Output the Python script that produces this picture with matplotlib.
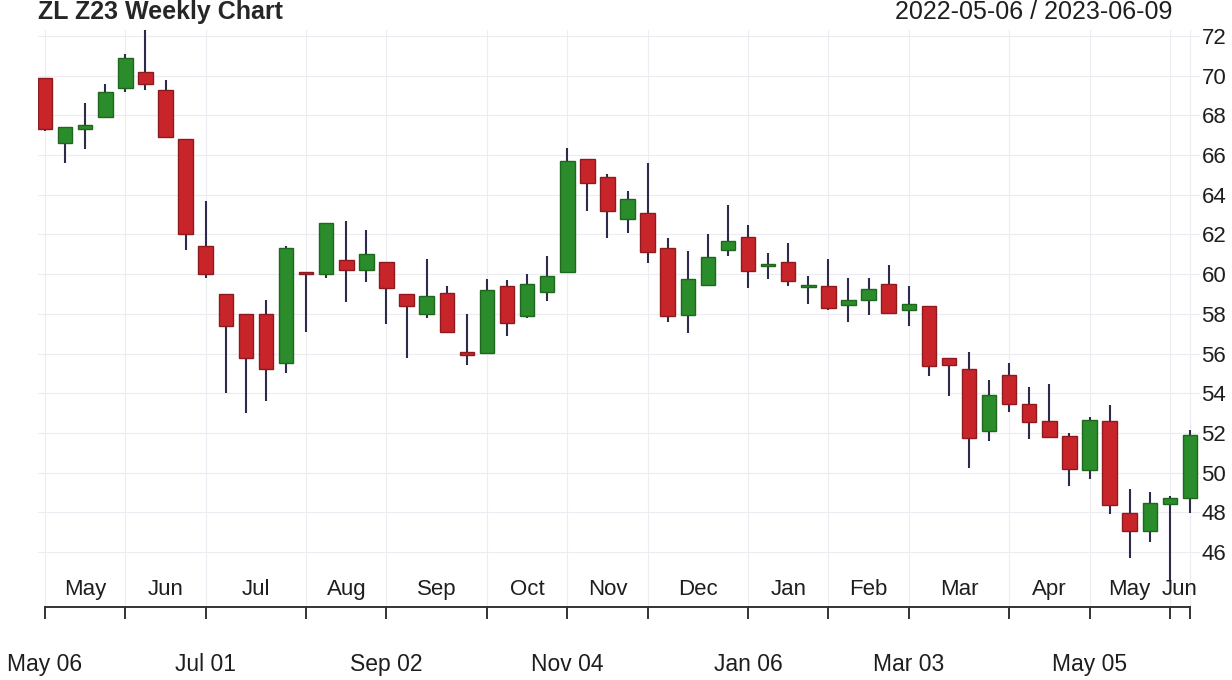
import matplotlib
matplotlib.use("Agg")
import matplotlib.pyplot as plt
from matplotlib.patches import Rectangle

plt.rcParams["font.family"] = ["Liberation Sans", "DejaVu Sans"]

# weekly OHLC, 2022-05-06 .. 2023-06-09
opens = [69.9, 66.6, 67.3, 67.9, 69.4, 70.2, 69.3, 66.8, 61.4, 59.0,
         58.0, 58.0, 55.5, 60.1, 60.0, 60.7, 60.2, 60.6, 59.0, 58.0,
         59.05, 56.05, 56.05, 59.4, 57.9, 59.1, 60.1, 65.8, 64.9, 62.8,
         63.1, 61.3, 57.95, 59.45, 61.2, 61.85, 60.4, 60.6, 59.35, 59.4,
         58.45, 58.7, 59.5, 58.2, 58.4, 55.75, 55.2, 52.1, 54.9, 53.45,
         52.6, 51.85, 50.15, 52.6, 47.95, 47.05, 48.4, 48.7]
highs = [69.9, 67.4, 68.6, 69.6, 71.1, 72.5, 69.8, 66.8, 63.7, 59.0,
         58.0, 58.7, 61.4, 60.1, 62.6, 62.7, 62.2, 60.6, 59.0, 60.75,
         59.4, 58.0, 59.75, 59.7, 60.0, 60.9, 66.35, 65.8, 65.05, 64.2,
         65.6, 61.8, 61.15, 62.0, 63.5, 62.5, 61.05, 61.55, 59.9, 60.75,
         59.8, 59.8, 60.45, 59.4, 58.4, 55.75, 56.1, 54.65, 55.5, 54.3,
         54.45, 52.0, 52.8, 53.4, 49.2, 49.0, 48.8, 52.15]
lows = [67.2, 65.6, 66.3, 67.9, 69.2, 69.3, 66.9, 61.2, 59.8, 54.0,
        53.0, 53.6, 55.0, 57.1, 59.8, 58.6, 59.6, 57.5, 55.8, 57.8,
        57.1, 55.4, 56.0, 56.9, 57.8, 58.65, 60.1, 63.2, 61.8, 62.05,
        60.55, 57.6, 57.05, 59.45, 60.9, 59.3, 59.75, 59.4, 58.5, 58.2,
        57.6, 57.95, 58.05, 57.4, 54.85, 53.85, 50.25, 51.6, 53.05, 51.7,
        51.8, 49.35, 49.7, 47.9, 45.7, 46.5, 44.6, 47.95]
closes = [67.3, 67.4, 67.5, 69.2, 70.9, 69.6, 66.9, 62.0, 60.0, 57.4,
          55.8, 55.2, 61.3, 60.0, 62.6, 60.2, 61.0, 59.3, 58.4, 58.9,
          57.1, 55.95, 59.2, 57.55, 59.5, 59.9, 65.7, 64.6, 63.2, 63.8,
          61.1, 57.9, 59.75, 60.85, 61.65, 60.15, 60.5, 59.65, 59.45, 58.3,
          58.7, 59.25, 58.05, 58.5, 55.35, 55.4, 51.75, 53.9, 53.45, 52.55,
          51.8, 50.2, 52.65, 48.35, 47.05, 48.45, 48.7, 51.9]

# month boundaries (week index of first Friday) and month names
month_starts = [0, 4, 8, 13, 17, 22, 26, 30, 35, 39, 43, 48, 52, 56, 57]
month_names = ["May", "Jun", "Jul", "Aug", "Sep", "Oct", "Nov", "Dec",
               "Jan", "Feb", "Mar", "Apr", "May", "Jun"]
nav_idx = [0, 8, 17, 26, 35, 43, 52]
nav_labels = ["May 06", "Jul 01", "Sep 02", "Nov 04", "Jan 06", "Mar 03", "May 05"]
yticks = list(range(46, 73, 2))

UP, DOWN = "#2a8c2a", "#c8252a"
UP_EDGE, DOWN_EDGE = "#1f661f", "#8e1a1d"
WICK = "#2e2a4a"
TXT = "#1e1e1e"

fig = plt.figure(figsize=(12.32, 6.8), dpi=100)
ax = fig.add_axes([38 / 1232, 1 - 607 / 680, 1162 / 1232, 577 / 680])
ax.set_xlim(-0.35, 57.5)
ax.set_ylim(43.23, 72.3)

for i, (o, h, l, c) in enumerate(zip(opens, highs, lows, closes)):
    up = c >= o
    ax.vlines(i, l, h, color=WICK, lw=1.5, zorder=2)
    bot = min(o, c)
    hgt = max(abs(c - o), 0.12)
    ax.add_patch(Rectangle((i - 0.36, bot), 0.72, hgt,
                           facecolor=UP if up else DOWN,
                           edgecolor=UP_EDGE if up else DOWN_EDGE,
                           lw=1.0, zorder=3))

ax.set_yticks(yticks)
ax.yaxis.tick_right()
ax.tick_params(axis="y", length=0, labelsize=16, pad=1, colors=TXT)
ax.grid(axis="y", color="#ececf2", lw=0.8)
for m in month_starts:
    ax.axvline(m, color="#ececf2", lw=0.8, zorder=0)

for s in ax.spines.values():
    s.set_visible(False)
ax.set_xticks([])

xt = ax.get_xaxis_transform()
ax.plot([month_starts[0], month_starts[-1]], [0, 0], transform=xt,
        color="#333333", lw=1.4, clip_on=False)
for m in month_starts:
    ax.plot([m, m], [0, -0.019], transform=xt, color="#333333", lw=1.4,
            clip_on=False)

for k, name in enumerate(month_names):
    mid = (month_starts[k] + month_starts[k + 1]) / 2
    ax.text(mid, 0.012, name, transform=xt, ha="center", va="bottom",
            fontsize=16, color=TXT)

for i, lab in zip(nav_idx, nav_labels):
    ax.text(i, -0.1, lab, transform=xt, ha="center", va="center",
            fontsize=16.5, color=TXT)

fig.text(38 / 1232, 1 - 12 / 680, "ZL Z23 Weekly Chart", ha="left", va="center",
         fontsize=18, fontweight="bold", color="#262626")
fig.text(1172 / 1232, 1 - 12 / 680, "2022-05-06 / 2023-06-09", ha="right",
         va="center", fontsize=18, color=TXT)

fig.savefig("out.png", dpi=100, facecolor="white")
